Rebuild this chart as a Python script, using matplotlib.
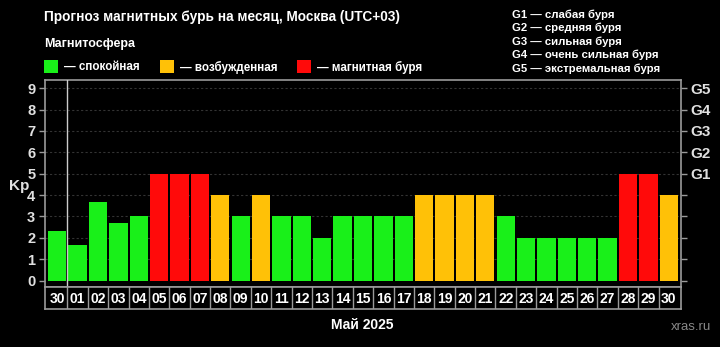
import matplotlib
matplotlib.use("Agg")
import matplotlib.pyplot as plt
from matplotlib.patches import Rectangle

plt.rcParams['font.family'] = ['Liberation Sans', 'DejaVu Sans']
plt.rcParams['font.weight'] = 'bold'

days = ["30", "01", "02", "03", "04", "05", "06", "07", "08", "09", "10", "11", "12", "13", "14", "15",
        "16", "17", "18", "19", "20", "21", "22", "23", "24", "25", "26", "27", "28", "29", "30"]
kp = [2.33, 1.67, 3.67, 2.67, 3, 5, 5, 5, 4, 3, 4, 3, 3, 2, 3, 3,
      3, 3, 4, 4, 4, 4, 3, 2, 2, 2, 2, 2, 5, 5, 4]
g_labels = ["G1", "G2", "G3", "G4", "G5"]
g_desc = ["слабая буря", "средняя буря", "сильная буря", "очень сильная буря", "экстремальная буря"]
legend_labels = ["спокойная", "возбужденная", "магнитная буря"]

GREEN, ORANGE, RED = "#19f019", "#ffc107", "#ff0a0a"
LEGEND_COLORS = [GREEN, ORANGE, RED]


def color_for(v):
    if v >= 5:
        return RED
    if v >= 4:
        return ORANGE
    return GREEN


W, H = 720, 347
fig = plt.figure(figsize=(W / 100, H / 100), dpi=100, facecolor="black")

def fx(px):
    return px / W

def fy(py):
    return 1 - py / H

n = len(days)
xl = (-0.6, n - 0.4)
ax = fig.add_axes([fx(45), fy(287), fx(681 - 45), fy(80) - fy(287)])
ax.set_facecolor("black")
x = list(range(n))
ax.bar(x, kp, width=0.9, color=[color_for(v) for v in kp], zorder=3)
ax.set_xlim(*xl)
ax.set_ylim(-0.3, 9.38)
ax.set_yticks(range(10))
ax.set_yticklabels([str(i) for i in range(10)], color="#e0e0e0", fontsize=10.5, fontweight="bold")
ax.set_xticks([])
for y in range(1, 10):
    ax.axhline(y, color="#333333", lw=0.8, ls=(0, (2, 2)), zorder=1)
ax.axvline(0.5, color="#cccccc", lw=1, zorder=4)
for s in ax.spines.values():
    s.set_color("#9a9a9a")
    s.set_linewidth(1.2)
ax.tick_params(axis="y", colors="#9a9a9a", length=4, width=1, pad=3, labelcolor="#e0e0e0")
ax.set_ylabel("Kp", color="#e0e0e0", fontsize=11, fontweight="bold", rotation=0, va="center", ha="center")
ax.yaxis.set_label_coords(-0.04, 0.49)

ax2 = ax.twinx()
ax2.set_ylim(ax.get_ylim())
ax2.set_yticks(range(10))
ax2.set_yticklabels([""] * 5 + g_labels, color="#e0e0e0", fontsize=11, fontweight="bold")
ax2.tick_params(axis="y", colors="#9a9a9a", length=4, width=1, pad=3, labelcolor="#e0e0e0")
for s in ax2.spines.values():
    s.set_visible(False)

# date boxes
axd = fig.add_axes([fx(45), fy(309), fx(681 - 45), fy(287) - fy(309)])
axd.set_facecolor("black")
axd.set_xlim(*xl)
axd.set_ylim(0, 1)
axd.set_xticks([])
axd.set_yticks([])
for s in axd.spines.values():
    s.set_color("#9a9a9a")
    s.set_linewidth(1.2)
for i in range(n - 1):
    axd.axvline(i + 0.5, color="#9a9a9a", lw=1)
for i, d in enumerate(days):
    axd.text(i, 0.45, d, color="white", fontsize=10, fontweight="bold", ha="center", va="center")

# titles
fig.text(fx(44), fy(17), "Прогноз магнитных бурь на месяц, Москва (UTC+03)", color="white",
         fontsize=9.8, fontweight="bold", ha="left", va="center")
fig.text(fx(44), fy(44), "Магнитосфера", color="white", fontsize=9, fontweight="bold",
         ha="left", va="center")
sq_x = [44, 160, 297]
for px, lab, c in zip(sq_x, legend_labels, LEGEND_COLORS):
    fig.patches.append(Rectangle((fx(px), fy(73)), fx(14), fy(60) - fy(73), transform=fig.transFigure,
                                 facecolor=c, edgecolor="none"))
    fig.text(fx(px + 20), fy(67), "— " + lab, color="white", fontsize=8.4, fontweight="bold",
             ha="left", va="center")

g_y = [15, 28, 41.5, 55, 69]
for yy, gl, gd in zip(g_y, g_labels, g_desc):
    fig.text(fx(512), fy(yy), gl + " — " + gd, color="white", fontsize=8.2, fontweight="bold",
             ha="left", va="center")

fig.text(fx(362), fy(325), "Май 2025", color="white", fontsize=10, fontweight="bold",
         ha="center", va="center")
fig.text(fx(711), fy(327), "xras.ru", color="#888888", fontsize=9.5, fontweight="normal",
         ha="right", va="center")

fig.savefig("out.png", dpi=100, facecolor="black")
